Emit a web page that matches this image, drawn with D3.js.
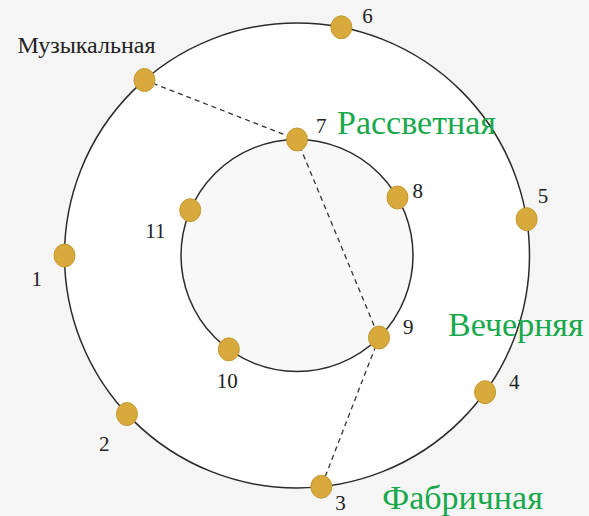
<!DOCTYPE html>
<html>
<head>
<meta charset="UTF-8" />
<script src="https://d3js.org/d3.v7.min.js"></script>
<style>
    body { margin: 0; background: #f5f5f5; }
    .num { font-family: "Liberation Serif", "DejaVu Serif", serif; font-size: 21px; fill: #222; }
    .line-name { font-family: "Liberation Serif", "DejaVu Serif", serif; font-size: 34px; fill: #17a84b; }
</style>
</head>
<body>
<svg width="589" height="516"></svg>
<script>
// stations: name, which ring, angle in degrees (clockwise from top)
const stationNames = ["Музыкальная", "6", "5", "4", "3", "2", "1", "7", "8", "9", "10", "11"];
const stationRings = ["outer", "outer", "outer", "outer", "outer", "outer", "outer", "inner", "inner", "inner", "inner", "inner"];
const stationAngles = [319, 11, 81, 126, 174, 227, 270, 0, 60, 135, 216, 293];
// dashed route between stations
const route = ["Музыкальная", "7", "9", "3"];
// line names and the station they sit next to
const lineNames = ["Рассветная", "Вечерняя", "Фабричная"];
const lineAnchors = ["7", "9", "3"];

// label placement relative to the station dot (layout only)
const labelOffset = {
    "Музыкальная": [-127, -27], "1": [-33, 30], "2": [-28, 37], "3": [14, 23], "4": [24, -3],
    "5": [11, -16], "6": [21, -4], "7": [19, -7], "8": [15, 0], "9": [24, -4], "10": [-12, 39], "11": [-45, 28]
};
const lineOffset = { "Рассветная": [40, -6], "Вечерняя": [69, -2], "Фабричная": [61, 22] };

var svg = d3.select("svg");
var cx = 297, cy = 255.5;
var rScale = d3.scaleOrdinal().domain(["inner", "outer"]).range([116, 232.5]);
var aScale = d3.scaleLinear().domain([0, 360]).range([0, 2 * Math.PI]);

var stations = stationNames.map(function (n, i) {
    var p = d3.pointRadial(aScale(stationAngles[i]), rScale(stationRings[i]));
    return { name: n, x: cx + p[0], y: cy + p[1] };
});
var byName = {};
stations.forEach(function (d) { byName[d.name] = d; });

var g = svg.append("g");

// outer ring white, inner disc slightly grey
g.append("circle").attr("cx", cx).attr("cy", cy).attr("r", rScale("outer"))
    .attr("fill", "#ffffff").attr("stroke", "#2b2b2b").attr("stroke-width", 1.5);
g.append("circle").attr("cx", cx).attr("cy", cy).attr("r", rScale("inner"))
    .attr("fill", "#f8f8f8").attr("stroke", "#2b2b2b").attr("stroke-width", 1.5);

// dashed route
var line = d3.line().x(d => d.x).y(d => d.y);
g.append("path")
    .attr("d", line(route.map(n => byName[n])))
    .attr("fill", "none")
    .attr("stroke", "#333")
    .attr("stroke-width", 1.3)
    .attr("stroke-dasharray", "5,4");

// station dots
g.selectAll("ellipse.stn").data(stations).enter().append("ellipse")
    .attr("class", "stn")
    .attr("cx", d => d.x).attr("cy", d => d.y)
    .attr("rx", 10.5).attr("ry", 11.5)
    .attr("fill", "#d8aa3c")
    .attr("stroke", "#c29a34")
    .attr("stroke-width", 1);

// station labels
g.selectAll("text.num").data(stations).enter().append("text")
    .attr("class", "num")
    .attr("x", d => d.x + labelOffset[d.name][0])
    .attr("y", d => d.y + labelOffset[d.name][1])
    .style("font-size", d => d.name.length > 2 ? "24px" : null)
    .text(d => d.name);

// line names
g.selectAll("text.line-name").data(lineNames).enter().append("text")
    .attr("class", "line-name")
    .attr("x", (d, i) => byName[lineAnchors[i]].x + lineOffset[d][0])
    .attr("y", (d, i) => byName[lineAnchors[i]].y + lineOffset[d][1])
    .text(d => d);
</script>
</body>
</html>
